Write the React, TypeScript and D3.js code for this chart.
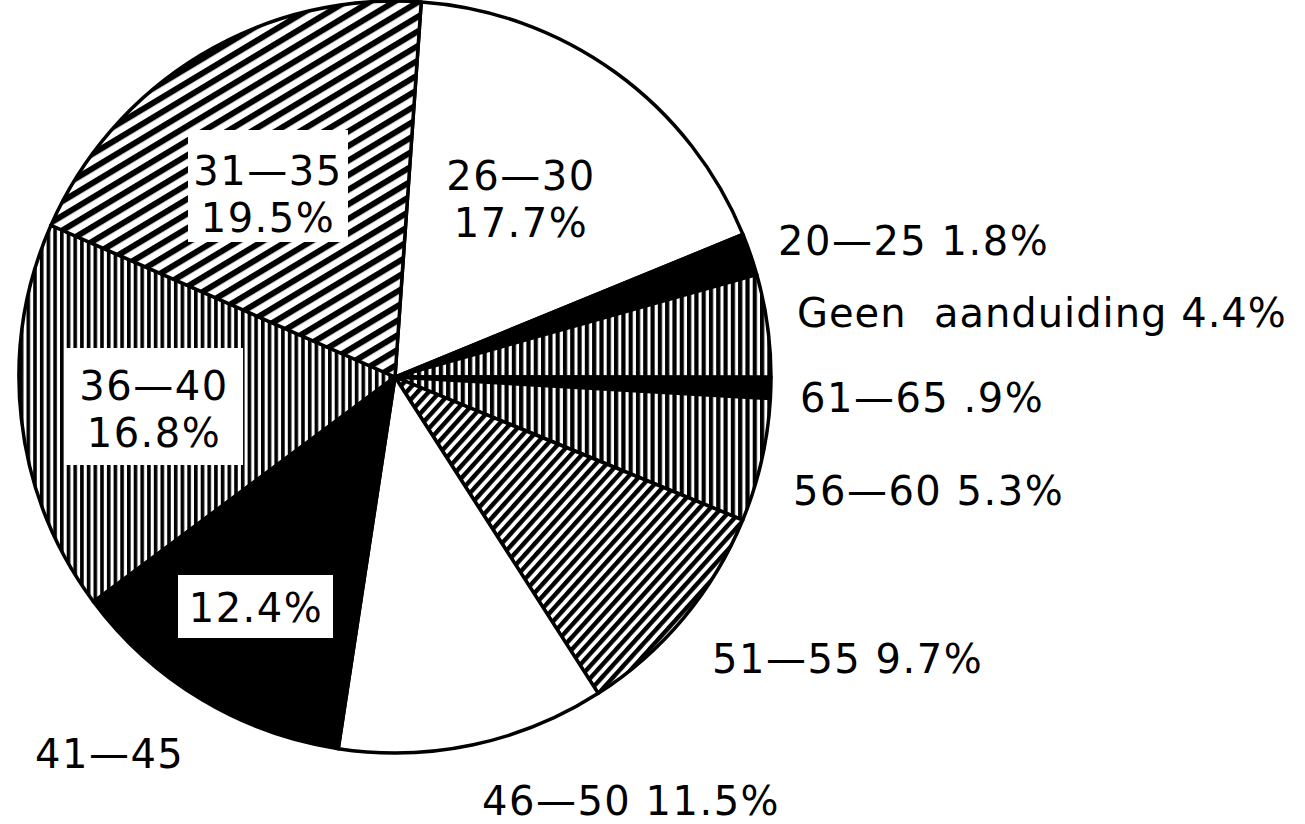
import React from "react";
import * as d3 from "d3";

const categories = ["26—30", "20—25", "Geen  aanduiding", "61—65", "56—60", "51—55", "46—50", "41—45", "36—40", "31—35"];
const values = [17.7, 1.8, 4.4, 0.9, 5.3, 9.7, 11.5, 12.4, 16.8, 19.5];
const valueLabels = ["17.7%", "1.8%", "4.4%", ".9%", "5.3%", "9.7%", "11.5%", "12.4%", "16.8%", "19.5%"];

// style per slice (pattern ids)
const fills = ["#fff", "#000", "url(#vert)", "#000", "url(#vert)", "url(#diagSteep)", "#fff", "#000", "url(#vertFine)", "url(#diag)"];

type Lab = { x: number; y: number; anchor: string; lines: ("cat" | "val" | "both")[]; box?: [number, number, number, number] };
const layout: Lab[] = [
  { x: 521, y: 190, anchor: "middle", lines: ["cat", "val"] },
  { x: 778, y: 255, anchor: "start", lines: ["both"] },
  { x: 797, y: 327, anchor: "start", lines: ["both"] },
  { x: 800, y: 412, anchor: "start", lines: ["both"] },
  { x: 793, y: 505, anchor: "start", lines: ["both"] },
  { x: 712, y: 673, anchor: "start", lines: ["both"] },
  { x: 482, y: 815, anchor: "start", lines: ["both"] },
  { x: 256, y: 622, anchor: "middle", lines: ["val"], box: [178, 575, 155, 63] },
  { x: 154, y: 400, anchor: "middle", lines: ["cat", "val"], box: [65, 348, 178, 117] },
  { x: 268, y: 185, anchor: "middle", lines: ["cat", "val"], box: [188, 130, 160, 112] },
];

export default function App() {
  const cx = 395, cy = 377, r = 376;
  const start = (4 * Math.PI) / 180;
  const pie = d3.pie<number>().sort(null).value((d) => d).startAngle(start).endAngle(start + 2 * Math.PI);
  const arcs = pie(values);
  const arc = d3.arc<d3.PieArcDatum<number>>().innerRadius(0).outerRadius(r);
  const font = "'DejaVu Sans', sans-serif";
  return (
    <svg width={1305} height={824} style={{ position: "absolute", left: 0, top: 0, background: "#fff" }}>
      <defs>
        <pattern id="vert" patternUnits="userSpaceOnUse" width={7.3} height={10}>
          <rect x={0} y={0} width={7.3} height={10} fill="#fff" />
          <rect x={0} y={0} width={4.2} height={10} fill="#000" />
        </pattern>
        <pattern id="vertFine" patternUnits="userSpaceOnUse" width={6.7} height={10}>
          <rect x={0} y={0} width={6.7} height={10} fill="#fff" />
          <rect x={0} y={0} width={3.6} height={10} fill="#000" />
        </pattern>
        <pattern id="diag" patternUnits="userSpaceOnUse" width={20} height={12.5} patternTransform="rotate(-31)">
          <rect x={0} y={0} width={20} height={12.5} fill="#fff" />
          <rect x={0} y={0} width={20} height={6} fill="#000" />
        </pattern>
        <pattern id="diagSteep" patternUnits="userSpaceOnUse" width={20} height={8.2} patternTransform="rotate(-48)">
          <rect x={0} y={0} width={20} height={8.2} fill="#fff" />
          <rect x={0} y={0} width={20} height={4.4} fill="#000" />
        </pattern>
      </defs>
      <g transform={`translate(${cx},${cy})`}>
        {arcs.map((a, i) => (
          <path key={i} d={arc(a) || ""} fill={fills[i]} stroke="#000" strokeWidth={3.5} strokeLinejoin="round" />
        ))}
      </g>
      {layout.map((l, i) => {
        const texts: string[] = l.lines.map((t) =>
          t === "cat" ? categories[i] : t === "val" ? valueLabels[i] : `${categories[i]} ${valueLabels[i]}`
        );
        return (
          <g key={i}>
            {l.box && <rect x={l.box[0]} y={l.box[1]} width={l.box[2]} height={l.box[3]} fill="#fff" />}
            {texts.map((t, j) => (
              <text
                key={j}
                x={l.x}
                y={l.y + j * 47}
                textAnchor={l.anchor as any}
                fontFamily={font}
                fontSize={40}
                letterSpacing={i === 2 ? 1 : 1.5}
                fill="#000"
                style={{ whiteSpace: "pre" }}
              >
                {t}
              </text>
            ))}
          </g>
        );
      })}
      <text x={35} y={768} fontFamily={font} fontSize={40} letterSpacing={1.5} fill="#000">
        {categories[7]}
      </text>
    </svg>
  );
}
